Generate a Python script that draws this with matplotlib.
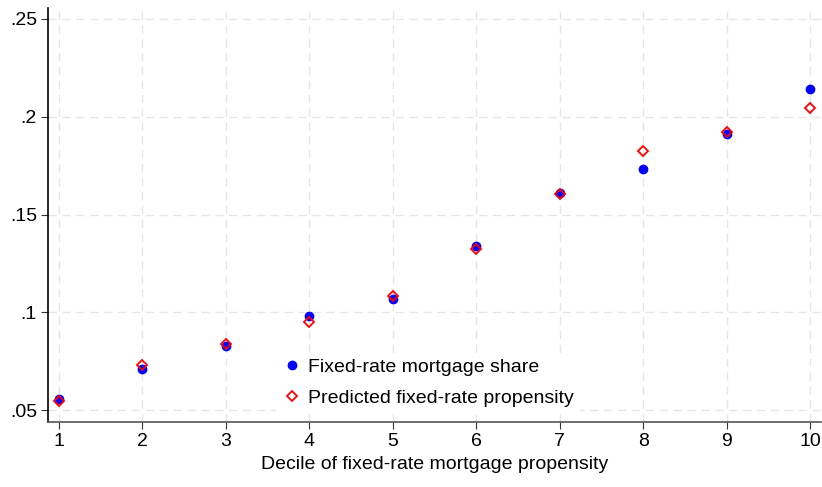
"""
Fixed-rate mortgage share vs predicted propensity by decile.
"""

import matplotlib
matplotlib.use('Agg')
import matplotlib.pyplot as plt
from matplotlib import font_manager

deciles = [1, 2, 3, 4, 5, 6, 7, 8, 9, 10]
share = [0.0556, 0.0709, 0.0827, 0.0980, 0.1066, 0.1338, 0.1612, 0.1733, 0.1910, 0.2141]
predicted = [0.0548, 0.0733, 0.0838, 0.0949, 0.1082, 0.1325, 0.1607, 0.1827, 0.1920, 0.2044]
yticks = [0.05, 0.1, 0.15, 0.2, 0.25]
ytick_labels = ['.05', '.1', '.15', '.2', '.25']

names = {f.name for f in font_manager.fontManager.ttflist}
font = 'Liberation Sans Narrow' if 'Liberation Sans Narrow' in names else 'Liberation Sans'
plt.rcParams['font.family'] = [font, 'DejaVu Sans']

fig = plt.figure(figsize=(8.22, 4.87), dpi=100)
ax = fig.add_axes([48 / 822, 65 / 487, 773 / 822, 414 / 487])

ax.grid(True, color='#e6e6e6', linestyle=(0, (6, 4)), linewidth=1.0)
ax.set_axisbelow(True)

ax.plot(deciles, share, 'o', color='#0000ff', markersize=6,
        label='Fixed-rate mortgage share', zorder=3)
ax.plot(deciles, predicted, 'D', markerfacecolor='none', markeredgecolor='#ff0000',
        markersize=5, markeredgewidth=1.3, label='Predicted fixed-rate propensity', zorder=4)

ax.set_xlim(0.868, 10.13)
ax.set_ylim(0.0439, 0.2556)
ax.set_xticks(deciles)
ax.set_yticks(yticks)
ax.set_yticklabels(ytick_labels)
ax.tick_params(labelsize=14, length=5, color='#333333', pad=3)

ax.spines['right'].set_visible(False)
ax.spines['top'].set_visible(False)
ax.spines['left'].set_color('#000000')
ax.spines['bottom'].set_color('#555555')
ax.spines['left'].set_linewidth(1.2)
ax.spines['bottom'].set_linewidth(1.2)

ax.set_xlabel('Decile of fixed-rate mortgage propensity', fontsize=14, labelpad=4)

leg = ax.legend(loc='lower left', bbox_to_anchor=(0.283, -0.002), frameon=True,
                fontsize=14, handletextpad=0.3, labelspacing=0.7,
                borderpad=0.3, handlelength=1.0)
leg.get_frame().set_edgecolor('white')
leg.get_frame().set_facecolor('white')
leg.get_frame().set_alpha(1.0)

plt.savefig('out.png', dpi=100)
